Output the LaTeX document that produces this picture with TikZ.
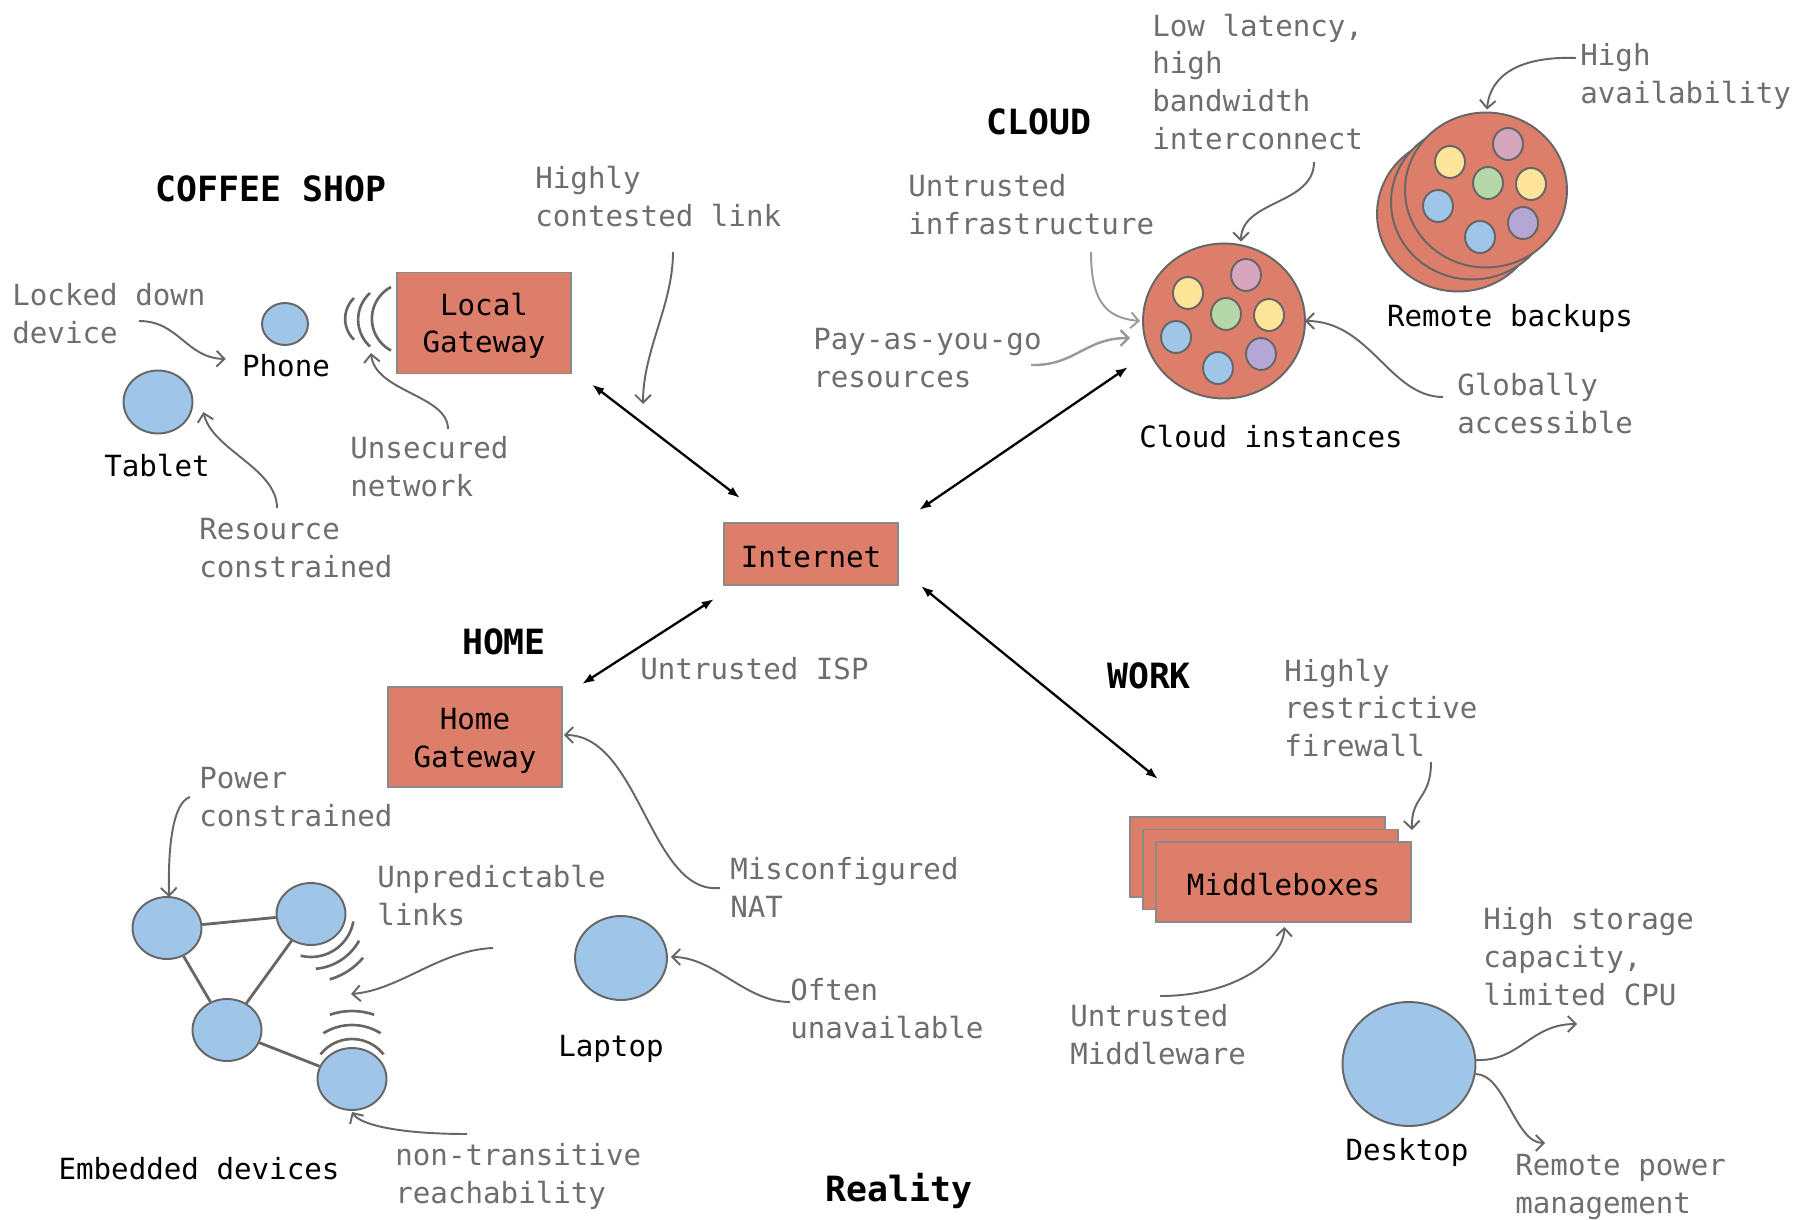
\documentclass[tikz,border=0pt]{standalone}
\usepackage{fontspec}
\setmainfont{DejaVu Sans Mono}
\usetikzlibrary{shapes.geometric,arrows.meta}

\definecolor{salmon}{HTML}{DD7E6B}
\definecolor{devblue}{HTML}{9FC5E8}
\definecolor{edgegray}{HTML}{666666}
\definecolor{boxgray}{HTML}{8A8A8A}
\definecolor{notegray}{HTML}{6E6E6E}
\definecolor{softgray}{HTML}{9A9A9A}
\definecolor{vmy}{HTML}{FFE599}
\definecolor{vmp}{HTML}{D5A6BD}
\definecolor{vmg}{HTML}{B6D7A8}
\definecolor{vmb}{HTML}{9FC5E8}
\definecolor{vmv}{HTML}{B4A7D6}

\newcommand{\notefont}{\fontsize{16.6pt}{21.6pt}\selectfont}
\newcommand{\headfont}{\fontsize{19.8pt}{24pt}\selectfont\bfseries}
\newcommand{\boxstrut}{\rule{0pt}{16pt}}

% seven small instances inside a cloud host
\newcommand{\vminside}[1]{%
  \foreach \dx/\dy/\c [count=\i] in {-36/-28/vmy,22/-46/vmp,2/-7/vmg,45/-6/vmy,-48/16/vmb,37/33/vmv,-6/47/vmb}
    \node (#1v\i) [vm,fill=\c] at ([shift={(\dx,\dy)}]#1.center) {};}

\tikzset{
  box/.style={rectangle,draw=boxgray,fill=salmon,line width=1.1pt,minimum width=3.48cm,align=center,font=\notefont},
  mbox/.style={box,minimum width=5.1cm,minimum height=1.6cm},
  dev/.style={ellipse,draw=edgegray,fill=devblue,line width=1.1pt,inner sep=0},
  vmhost/.style={ellipse,draw=edgegray,fill=salmon,line width=1.1pt,inner sep=0,minimum width=3.24cm,minimum height=3.1cm},
  vm/.style={ellipse,draw=edgegray,line width=1.1pt,inner sep=0,minimum width=0.6cm,minimum height=0.64cm},
  note/.style={anchor=west,inner sep=0,align=left,text=notegray,font=\notefont},
  lbl/.style={inner sep=0,font=\notefont},
  hdr/.style={inner sep=0,font=\headfont},
  link/.style={{Latex[length=7pt,width=5pt]}-{Latex[length=7pt,width=5pt]},line width=1.3pt},
  pointer/.style={draw=edgegray,line width=1.1pt,-{Straight Barb[length=4.5pt,width=9pt]}},
  wave/.style={draw=edgegray,line width=1.5pt},
  mesh/.style={draw=edgegray,line width=1.6pt}
}

\begin{document}
\begin{tikzpicture}[x=0.02cm,y=-0.02cm]
\useasboundingbox (0,0) rectangle (1810,1220);

% coffee shop
\node (coffee) [hdr] at (271,189) {COFFEE SHOP};
\node (lg) [box,minimum height=2.02cm] at (484,323) {\boxstrut Local\\Gateway};
\node (phone) [dev,minimum width=0.92cm,minimum height=0.84cm] at (285,324) {};
\node (lphone) [lbl] at (286,366) {Phone};
\node (tablet) [dev,minimum width=1.38cm,minimum height=1.26cm] at (158,402) {};
\node (ltablet) [lbl] at (157,466) {Tablet};
\node (tlocked) [note] at (12,314) {Locked down\\device};
\node (tres) [note] at (199,548) {Resource\\constrained};
\node (tunsec) [note] at (350,467) {Unsecured\\network};
\node (tcont) [note] at (535,197) {Highly\\contested link};
\draw [wave] (354,298) arc[start angle=226,end angle=134,radius=29];
\draw [wave] (370,293) arc[start angle=228,end angle=132,radius=36];
\draw [wave] (391,287) arc[start angle=242,end angle=118,radius=36];

% internet
\node (inet) [box,minimum height=1.24cm] at (811,554) {\boxstrut Internet};

% cloud
\node (cloudh) [hdr] at (1039,122) {CLOUD};
\node (rb3) [vmhost] at (1458,214) {};
\node (rb2) [vmhost] at (1472,202) {};
\node (rb) [vmhost] at (1486,190) {};
\vminside{rb}
\node (ci) [vmhost] at (1224,321) {};
\vminside{ci}
\node (lci) [lbl] at (1271,437) {Cloud instances};
\node (lrb) [lbl] at (1510,318) {Remote backups};
\node (tlow) [note] at (1152,82) {Low latency,\\high\\bandwidth\\interconnect};
\node (tavail) [note] at (1580,76) {High\\availability};
\node (tinfra) [note] at (908,205) {Untrusted\\infrastructure};
\node (tpayg) [note] at (813,358) {Pay-as-you-go\\resources};
\node (tglob) [note] at (1457,404) {Globally\\accessible};

% home
\node (homeh) [hdr] at (504,642) {HOME};
\node (hg) [box,minimum height=2cm] at (475,737) {\boxstrut Home\\Gateway};
\node (tisp) [note] at (640,669) {Untrusted ISP};
\node (tnat) [note] at (730,887) {Misconfigured\\NAT};
\node (ea) [dev,minimum width=1.38cm,minimum height=1.24cm] at (167,928) {};
\node (eb) [dev,minimum width=1.38cm,minimum height=1.24cm] at (311,914) {};
\node (ec) [dev,minimum width=1.38cm,minimum height=1.24cm] at (227,1030) {};
\node (ed) [dev,minimum width=1.38cm,minimum height=1.24cm] at (352,1079) {};
\draw [mesh] (ea) -- (eb);
\draw [mesh] (ea) -- (ec);
\draw [mesh] (eb) -- (ec);
\draw [mesh] (ec) -- (ed);
\foreach \r/\h in {43/47,55/28,68/17}
  \draw [wave] ([shift={(57+\h:\r)}]eb.center) arc[start angle=57+\h,end angle=57-\h,radius=\r];
\foreach \r/\h in {40/52,54/32,68/19}
  \draw [wave] ([shift={(270-\h:\r)}]ed.center) arc[start angle=270-\h,end angle=270+\h,radius=\r];
\node (lemb) [lbl] at (199,1169) {Embedded devices};
\node (tpow) [note] at (199,797) {Power\\constrained};
\node (tunp) [note] at (377,896) {Unpredictable\\links};
\node (tnon) [note] at (395,1176) {non-transitive\\reachability};
\node (laptop) [dev,minimum width=1.84cm,minimum height=1.68cm] at (621,958) {};
\node (llaptop) [lbl] at (611,1049) {Laptop};
\node (toften) [note] at (790,1009) {Often\\unavailable};

% work
\node (workh) [hdr] at (1149,676) {WORK};
\node (mb3) [mbox] at (1257.5,857) {};
\node (mb2) [mbox] at (1270.5,869.5) {};
\node (mb) [mbox] at (1283.5,882) {\boxstrut Middleboxes};
\node (tfw) [note] at (1284,708) {Highly\\restrictive\\firewall};
\node (tumw) [note] at (1070,1035) {Untrusted\\Middleware};
\node (desk) [dev,minimum width=2.66cm,minimum height=2.48cm] at (1409,1064) {};
\node (ldesk) [lbl] at (1407,1152) {Desktop};
\node (tstor) [note] at (1483,957) {High storage\\capacity,\\limited CPU};
\node (tpm) [note] at (1515,1187) {Remote power\\management};

\node (real) [hdr] at (899,1191) {Reality};

% internet links
\draw [link] ([shift={(20,10)}]lg.south east) -- ([shift={(17,-24)}]inet.north west);
\draw [link] ([shift={(20,-12)}]inet.north east) -- ([shift={(-14,46)}]ci.west);
\draw [link] ([shift={(-9,13)}]inet.south west) -- ([shift={(19,-2)}]hg.north east);
\draw [link] ([shift={(22,0)}]inet.south east) -- ([shift={(29,-37)}]mb3.north west);

% remarks
\coordinate (clocked) at (139,321);
\coordinate (cres) at (277,508);
\coordinate (cunsec) at (448,429);
\coordinate (cwifi) at (371,353);
\coordinate (ccont) at (673,252);
\coordinate (clink) at (643,404);
\coordinate (cinfra) at (1091,252);
\coordinate (cpayg) at (1031,365);
\coordinate (clow) at (1314,162);
\coordinate (cavail) at (1576,58);
\coordinate (cglob) at (1443,397);
\coordinate (cnat) at (720,888);
\coordinate (cpow) at (190,797);
\coordinate (cunp) at (493,948);
\coordinate (cgap) at (351,994);
\coordinate (cnon) at (467,1134);
\coordinate (coften) at (790,1002);
\coordinate (cfw) at (1431,762);
\coordinate (cumw) at (1160,996);
\coordinate (cstor) at (1577,1024);
\coordinate (cpm) at (1545,1143);

\draw [pointer] (clocked) .. controls (179,321) and (186,358) .. ([shift={(-16,-7)}]lphone.west);
\draw [pointer] (cres) .. controls (277,468) and (212,450) .. ([shift={(10,10)}]tablet.east);
\draw [pointer] (cunsec) .. controls (448,395) and (375,392) .. (cwifi);
\draw [pointer] (ccont) .. controls (673,305) and (643,350) .. (clink);
\draw [pointer,draw=softgray] (cinfra) .. controls (1091,300) and (1105,318) .. ([shift={(-2,0)}]ci.west);
\draw [pointer,draw=softgray,line width=1.4pt] (cpayg) .. controls (1075,366) and (1085,338) .. ([shift={(-12,17)}]ci.west);
\draw [pointer] (clow) .. controls (1314,205) and (1241,200) .. ([shift={(17,-1)}]ci.north);
\draw [pointer] (cavail) .. controls (1520,56) and (1490,75) .. ([shift={(1,-2)}]rb.north);
\draw [pointer] (cglob) .. controls (1390,397) and (1370,321) .. ([shift={(-1,0)}]ci.east);
\draw [pointer] (cnat) .. controls (650,895) and (640,735) .. ([shift={(1,-2)}]hg.east);
\draw [pointer] (cpow) .. controls (172,803) and (168,850) .. ([shift={(2,1)}]ea.north);
\draw [pointer] (cunp) .. controls (440,950) and (400,990) .. (cgap);
\draw [pointer] (cnon) .. controls (400,1134) and (360,1125) .. ([shift={(0,1)}]ed.south);
\draw [pointer] (coften) .. controls (745,1002) and (715,957) .. ([shift={(3,-1)}]laptop.east);
\draw [pointer] (cfw) .. controls (1431,800) and (1411,795) .. ([shift={(0,-11)}]mb.north east);
\draw [pointer] (cumw) .. controls (1235,996) and (1283,960) .. ([shift={(1,4)}]mb.south);
\draw [pointer] ([shift={(-1,-4)}]desk.east) .. controls (1520,1062) and (1530,1024) .. (cstor);
\draw [pointer] ([shift={(-1,10)}]desk.east) .. controls (1505,1074) and (1515,1143) .. (cpm);
\end{tikzpicture}
\end{document}
